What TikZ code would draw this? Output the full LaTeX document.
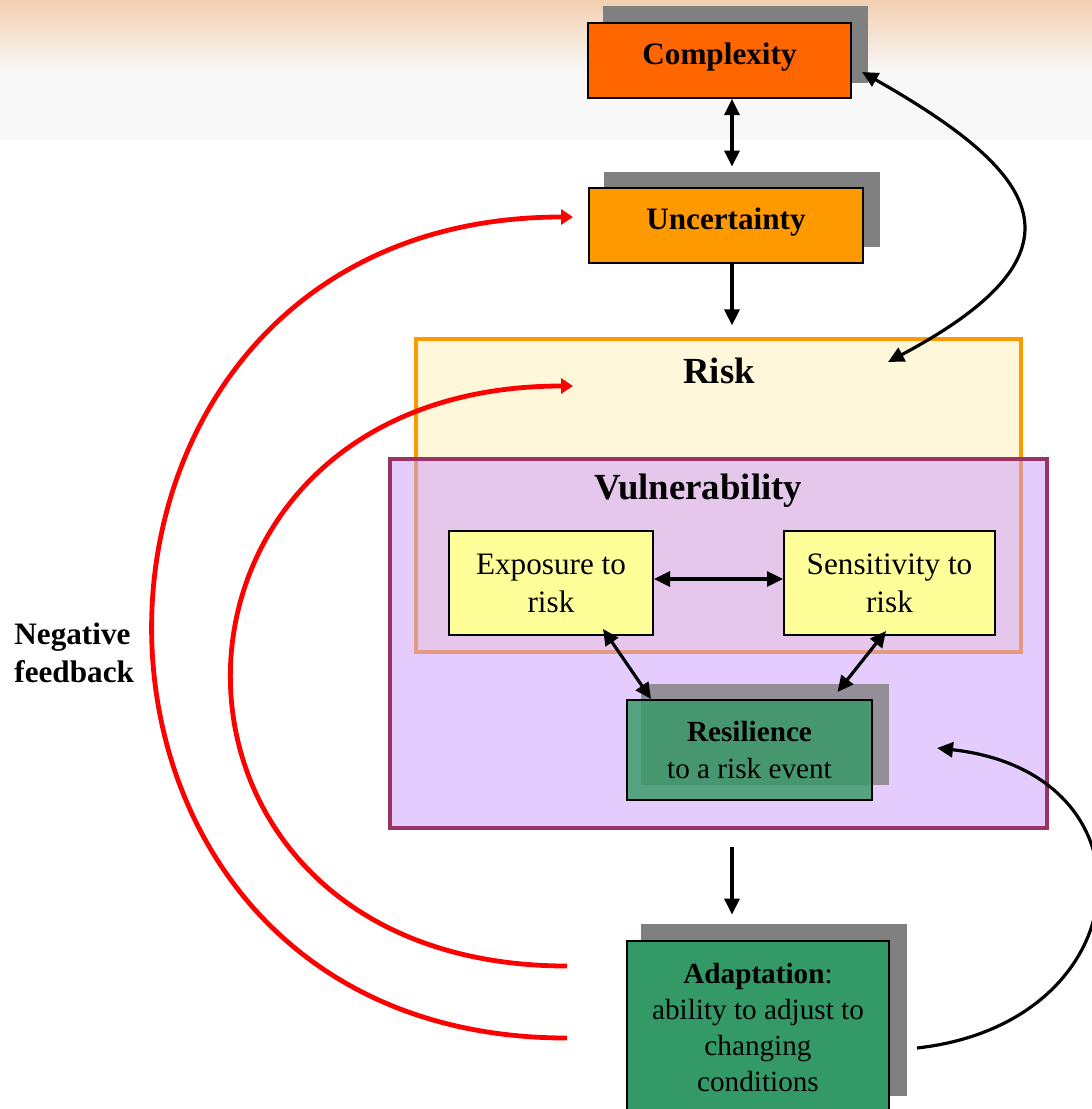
\documentclass[tikz,border=0pt]{standalone}
\usepackage{fontspec}
\setmainfont{Liberation Serif}
\usetikzlibrary{arrows.meta, positioning, calc}
\definecolor{hotorange}{HTML}{FF6600}
\definecolor{amber}{HTML}{FF9900}
\definecolor{riskcream}{HTML}{FFF7D9}
\definecolor{vulnlilac}{HTML}{CC99FF}
\definecolor{vulnplum}{HTML}{993366}
\definecolor{paleyellow}{HTML}{FFFF99}
\definecolor{seagreen}{HTML}{339966}
\definecolor{shadowgray}{HTML}{808080}
\definecolor{bandpeach}{HTML}{F2CFB0}
\definecolor{bandgray}{HTML}{F8F8F8}

\begin{document}
\begin{tikzpicture}[x=0.5pt, y=-0.5pt,
    box/.style={draw=black, line width=1pt, inner sep=0pt, align=center,
        font=\fontsize{15.6}{19}\selectfont},
    smallbox/.style={box, font=\fontsize{14.6}{18}\selectfont},
    shadowbox/.style={fill=shadowgray, inner sep=0pt},
    frame/.style={line width=1.6pt, inner sep=0pt},
    title/.style={inner sep=0pt, font=\fontsize{18.4}{22}\selectfont\bfseries},
    oneway/.style={line width=1.6pt, -{Triangle[length=8pt,width=7.5pt]}},
    twoway/.style={line width=1.6pt,
        {Triangle[length=8pt,width=7.5pt]}-{Triangle[length=8pt,width=7.5pt]}},
    feedback/.style={red, line width=2.4pt, -{Triangle[length=6pt,width=7.5pt]}}
]
    \useasboundingbox (0,0) rectangle (1092,1109);
    \clip (0,0) rectangle (1092,1109);
    % header band
    \shade[top color=bandpeach, bottom color=bandgray] (0,0) rectangle (1092,72);
    \fill[bandgray] (0,72) rectangle (1092,140);

    % risk and vulnerability frames
    \node[frame, draw=amber, fill=riskcream, minimum width=302.5pt, minimum height=156.5pt] (risk) at (718.5,495.5) {};
    \node[frame, draw=vulnplum, fill=vulnlilac, fill opacity=0.5, minimum width=328.5pt, minimum height=184.5pt] (vuln) at (718.5,643.5) {};
    \node[title] (risklbl) at (719,371) {Risk};
    \node[title] (vulnlbl) at (698.5,491) {Vulnerability};

    % top chain
    \node[shadowbox, minimum width=132.5pt, minimum height=38.5pt] (cplxshd) at (735.5,44.5) {};
    \node[box, fill=hotorange, text depth=6.8pt, minimum width=131.5pt, minimum height=37.5pt] (cplx) at (719.5,60.5) {\textbf{Complexity}};
    \node[shadowbox, minimum width=138pt, minimum height=37.5pt] (uncshd) at (742,209.5) {};
    \node[box, fill=amber, text depth=6.8pt, minimum width=137pt, minimum height=37.5pt] (unc) at (726,225.5) {\textbf{Uncertainty}};

    % inside vulnerability
    \node[box, fill=paleyellow, minimum width=102pt, minimum height=52pt] (expo) at (551,583) {Exposure to\\risk};
    \node[box, fill=paleyellow, minimum width=105.5pt, minimum height=52pt] (sens) at (889.5,583) {Sensitivity to\\risk};
    \node[shadowbox, opacity=0.8, minimum width=124pt, minimum height=50.5pt] (resilshd) at (765,734.5) {};
    \node[smallbox, fill=seagreen, fill opacity=0.8, text opacity=1, minimum width=122.5pt, minimum height=50pt] (resil) at (749.5,750) {\textbf{Resilience}\\to a risk event};

    % adaptation
    \node[shadowbox, minimum width=133pt, minimum height=86pt] (adaptshd) at (774,1010) {};
    \node[smallbox, fill=seagreen, minimum width=131pt, minimum height=86pt] (adapt) at (758,1027) {\textbf{Adaptation}:\\ability to adjust to\\changing\\conditions};

    \node[inner sep=0pt, anchor=west, align=left, font=\fontsize{15.6}{19}\selectfont\bfseries] (negfb) at (14,653) {Negative\\feedback};

    % straight links
    \coordinate (vcol) at (732,0);
    \draw[twoway] (cplx.south -| vcol) -- ([yshift=2.5pt]uncshd.north -| vcol);
    \draw[oneway] (unc.south -| vcol) -- ([yshift=6pt]risk.north -| vcol);
    \draw[oneway] ([yshift=-8.5pt]vuln.south -| vcol) -- ([yshift=4.5pt]adaptshd.north -| vcol);
    \draw[twoway] ([yshift=2pt]expo.east) -- ([yshift=2pt]sens.west);
    \draw[twoway] ([xshift=26pt,yshift=3.5pt]expo.south) -- ([xshift=12.5pt]resil.north west);
    \draw[twoway] ([xshift=-1.75pt,yshift=2.5pt]sens.south) -- ([xshift=44pt,yshift=3.5pt]resil.north);

    % curved links
    \coordinate (riskin) at (888,362);
    \coordinate (cplxin) at (862,72);
    \draw[twoway] (riskin) .. controls +(210,-112) and +(176,100) .. (cplxin);
    \coordinate (adaptout) at (917,1048);
    \coordinate (vulnin) at (937,748);
    \draw[oneway] (adaptout) .. controls +(225,-25) and +(225,25) .. (vulnin);

    % negative feedback loops
    \coordinate (outerstart) at (567,1038);
    \coordinate (outerend) at (573,217);
    \coordinate (innerstart) at (567,966);
    \coordinate (innerend) at (573,386);
    \draw[feedback] (outerstart) .. controls +(-556,0) and +(-556,0) .. (outerend);
    \draw[feedback] (innerstart) .. controls +(-451,0) and +(-451,0) .. (innerend);
\end{tikzpicture}
\end{document}
